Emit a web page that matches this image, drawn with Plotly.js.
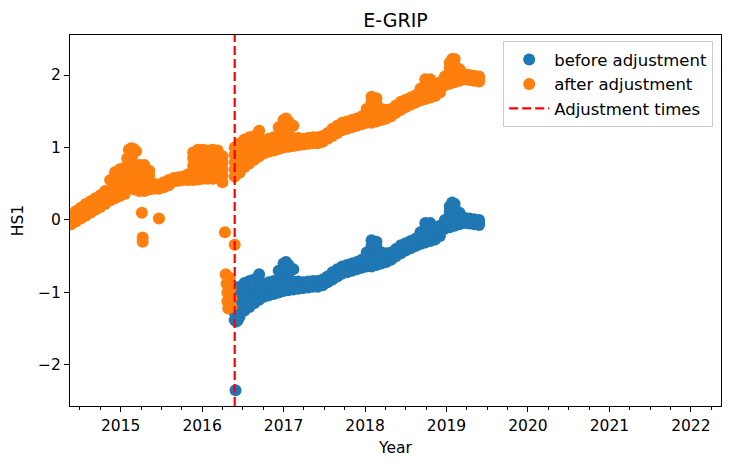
<!DOCTYPE html>
<html>
<head>
<meta charset="utf-8">
<script src="https://cdn.plot.ly/plotly-3.0.1.min.js"></script>
<style>html,body{margin:0;padding:0;background:#fff;}#chart{width:732px;height:466px;}</style>
</head>
<body>
<div id="chart"></div>
<script>
// ---- data (decimal years, HS1 values) ----
// "after adjustment": band samples (lower edge / middle / upper edge)
const afterT = [
  2014.39,2014.45,2014.51,2014.57,2014.63,2014.69,2014.75,2014.81,2014.87,2014.93,
  2014.99,2015.05,2015.11,2015.17,2015.23,2015.29,2015.35,2015.41,2015.47,2015.53,
  2015.59,2015.65,2015.71,2015.77,2015.83,2015.89,2015.95,2016.01,2016.07,2016.13,
  2016.19,2016.25,
  2016.40,2016.46,2016.52,2016.58,2016.64,2016.70,2016.76,2016.82,2016.88,2016.94,
  2017.00,2017.06,2017.12,2017.18,2017.24,2017.30,2017.36,2017.42,2017.48,2017.54,
  2017.60,2017.66,2017.72,2017.78,2017.84,2017.90,2017.96,2018.02,2018.08,2018.14,
  2018.20,2018.26,2018.32,2018.38,2018.44,2018.50,2018.56,2018.62,2018.68,2018.74,
  2018.80,2018.86,2018.92,2018.98,2019.04,2019.10,2019.16,2019.22,2019.28,2019.34,
  2019.40
];
const afterLo = [
  -0.06,-0.02,0.02,0.06,0.10,0.14,0.18,0.22,0.27,0.30,
  0.33,0.36,0.45,0.42,0.40,0.40,0.42,0.43,0.43,0.45,
  0.48,0.53,0.54,0.55,0.55,0.55,0.56,0.57,0.57,0.57,
  0.58,0.52,
  0.60,0.65,0.73,0.78,0.83,0.88,0.92,0.94,0.96,0.98,
  1.00,1.01,1.02,1.03,1.04,1.05,1.06,1.06,1.08,1.12,
  1.16,1.20,1.24,1.26,1.28,1.30,1.32,1.34,1.34,1.36,
  1.38,1.40,1.43,1.48,1.52,1.56,1.59,1.62,1.65,1.67,
  1.69,1.71,1.76,1.86,1.88,1.90,1.92,1.94,1.93,1.92,
  1.91
];
const afterMid = [
  0.01,0.06,0.10,0.14,0.18,0.22,0.26,0.31,0.40,0.48,
  0.52,0.55,0.60,0.58,0.57,0.58,0.55,0.47,0.46,0.49,
  0.52,0.55,0.56,0.57,0.60,0.75,0.78,0.77,0.78,0.77,
  0.78,0.70,
  0.80,0.86,0.92,0.96,1.00,1.06,1.01,1.03,1.05,1.13,
  1.20,1.18,1.13,1.08,1.08,1.09,1.10,1.10,1.12,1.16,
  1.21,1.25,1.29,1.31,1.33,1.35,1.38,1.43,1.53,1.53,
  1.46,1.46,1.48,1.53,1.58,1.61,1.64,1.67,1.73,1.80,
  1.82,1.78,1.83,1.92,2.03,2.06,2.00,1.97,1.96,1.95,
  1.94
];
const afterHi = [
  0.07,0.12,0.17,0.22,0.26,0.30,0.34,0.40,0.55,0.66,
  0.70,0.72,0.75,0.75,0.76,0.76,0.68,0.50,0.49,0.52,
  0.55,0.58,0.59,0.60,0.63,0.93,0.97,0.97,0.96,0.97,
  0.96,0.88,
  1.00,1.06,1.11,1.14,1.16,1.23,1.10,1.12,1.14,1.28,
  1.38,1.36,1.30,1.13,1.12,1.13,1.14,1.14,1.16,1.20,
  1.26,1.30,1.34,1.36,1.38,1.40,1.43,1.53,1.70,1.68,
  1.53,1.52,1.53,1.58,1.63,1.66,1.69,1.72,1.81,1.94,
  1.94,1.86,1.90,1.98,2.17,2.22,2.08,2.01,2.00,1.99,
  1.98
];
// single "after adjustment" points (knobs, fillers, outliers)
const afterExtraT = [
  2015.08,2015.10,2015.13,2015.16,2015.19,2015.14,
  2014.95,2014.95,2015.02,2015.02,2015.11,2015.17,2015.17,2015.23,2015.23,2015.29,2015.29,2015.35,
  2015.89,2015.89,2015.95,2015.95,2016.01,2016.01,2016.07,2016.07,2016.13,2016.13,2016.19,2016.19,2016.25,2016.25,
  2016.29,2016.30,2016.31,2016.31,2016.32,2016.34,2016.35,2016.36,2016.36,
  2015.26,2015.47,2015.27,2015.27,2016.28,2016.40,
  2016.40,2016.40,2016.46,2016.46,2016.52,2016.52,2016.70,2016.70,2017.00,2017.00,2017.06,2017.06,2017.03,
  2018.08,2018.08,2018.14,2018.14,2018.74,2018.74,2018.80,2018.80,2019.04,2019.04,2019.10,2019.10,2019.07
];
const afterExtraV = [
  0.85,0.97,0.99,0.98,0.95,0.88,
  0.41,0.58,0.45,0.64,0.52,0.50,0.67,0.48,0.67,0.48,0.67,0.62,
  0.65,0.85,0.67,0.88,0.67,0.87,0.67,0.87,0.67,0.87,0.68,0.87,0.61,0.79,
  -0.75,-0.88,-1.00,-1.12,-1.22,-0.80,-0.95,-1.08,-1.20,
  0.10,0.02,-0.24,-0.30,-0.17,-0.34,
  0.70,0.90,0.76,0.96,0.82,1.02,0.97,1.15,1.10,1.30,1.09,1.27,1.40,
  1.44,1.62,1.45,1.61,1.73,1.87,1.75,1.88,1.96,2.10,1.98,2.14,2.22
];

// "before adjustment": band samples after the adjustment time
const beforeT = afterT.slice(32);
const beforeLo = [
  -1.38,-1.33,-1.25,-1.20,-1.15,-1.10,-1.06,-1.04,-1.02,-1.00,
  -0.98,-0.97,-0.96,-0.95,-0.94,-0.93,-0.92,-0.92,-0.90,-0.86,
  -0.82,-0.78,-0.74,-0.72,-0.70,-0.68,-0.66,-0.64,-0.64,-0.62,
  -0.60,-0.58,-0.55,-0.50,-0.46,-0.42,-0.39,-0.36,-0.33,-0.31,
  -0.29,-0.27,-0.22,-0.12,-0.10,-0.08,-0.06,-0.04,-0.05,-0.06,
  -0.07
];
const beforeMid = [
  -1.18,-1.12,-1.06,-1.02,-0.98,-0.92,-0.97,-0.95,-0.93,-0.85,
  -0.78,-0.80,-0.85,-0.90,-0.90,-0.89,-0.88,-0.88,-0.86,-0.82,
  -0.77,-0.73,-0.69,-0.67,-0.65,-0.63,-0.60,-0.55,-0.45,-0.45,
  -0.52,-0.52,-0.50,-0.45,-0.40,-0.37,-0.34,-0.31,-0.25,-0.18,
  -0.16,-0.20,-0.15,-0.06,0.05,0.08,0.02,-0.01,-0.02,-0.03,
  -0.04
];
const beforeHi = [
  -0.98,-0.92,-0.87,-0.84,-0.82,-0.75,-0.88,-0.86,-0.84,-0.70,
  -0.60,-0.62,-0.68,-0.85,-0.86,-0.85,-0.84,-0.84,-0.82,-0.78,
  -0.72,-0.68,-0.64,-0.62,-0.60,-0.58,-0.55,-0.45,-0.28,-0.30,
  -0.45,-0.46,-0.45,-0.40,-0.35,-0.32,-0.29,-0.26,-0.17,-0.04,
  -0.04,-0.12,-0.08,0.00,0.19,0.22,0.10,0.03,0.02,0.01,
  0.00
];
const beforeExtraT = [
  2016.40,2016.40,2016.46,2016.46,2016.52,2016.52,2016.70,2016.70,2017.00,2017.00,2017.06,2017.06,2017.03,
  2018.08,2018.08,2018.14,2018.14,2018.74,2018.74,2018.80,2018.80,2019.04,2019.04,2019.10,2019.10,2019.07,
  2016.42,2016.44,2016.41
];
const beforeExtraV = [
  -1.28,-1.08,-1.22,-1.02,-1.16,-0.96,-1.01,-0.83,-0.88,-0.68,-0.89,-0.71,-0.58,
  -0.54,-0.36,-0.53,-0.37,-0.25,-0.11,-0.23,-0.10,-0.02,0.12,0.00,0.16,0.24,
  -1.40,-1.38,-2.35
];

const adjustmentTimes = [2016.40];
const xTickVals = [2015,2016,2017,2018,2019,2020,2021,2022];
const yTickVals = [-2,-1,0,1,2];
const xRange = [2014.378, 2022.37];
const yRange = [-2.566, 2.552];

// ---- traces ----
const font = 'DejaVu Sans, Verdana, sans-serif';
const beforeTrace = {
  type: 'scatter', mode: 'markers', name: 'before adjustment',
  x: beforeT.concat(beforeT, beforeT, beforeExtraT),
  y: beforeLo.concat(beforeMid, beforeHi, beforeExtraV),
  marker: {color: '#1f77b4', size: 12, line: {width: 0}},
  hoverinfo: 'skip'
};
const afterTrace = {
  type: 'scatter', mode: 'markers', name: 'after adjustment',
  x: afterT.concat(afterT, afterT, afterExtraT),
  y: afterLo.concat(afterMid, afterHi, afterExtraV),
  marker: {color: '#ff7f0e', size: 12, line: {width: 0}},
  hoverinfo: 'skip'
};
const adjX = [], adjY = [];
adjustmentTimes.forEach(t => { adjX.push(t, t, null); adjY.push(yRange[0], yRange[1], null); });
const adjTrace = {
  type: 'scatter', mode: 'lines', name: 'Adjustment times',
  x: adjX, y: adjY,
  line: {color: '#ff0000', width: 2.2, dash: '9px,4px'},
  hoverinfo: 'skip'
};

const layout = {
  width: 732, height: 466,
  margin: {l: 70, r: 11, t: 35, b: 60, pad: 0},
  paper_bgcolor: '#ffffff', plot_bgcolor: '#ffffff',
  font: {family: font, size: 15, color: '#000000'},
  title: {text: 'E-GRIP', font: {family: font, size: 19, color: '#000'},
          xref: 'paper', x: 0.5, xanchor: 'center', yref: 'paper', y: 1, yanchor: 'bottom', pad: {b: 8}},
  showlegend: true,
  legend: {x: 0.988, y: 0.983, xanchor: 'right', yanchor: 'top', itemwidth: 40,
           bgcolor: 'rgba(255,255,255,0.8)', bordercolor: '#cccccc', borderwidth: 1,
           font: {family: font, size: 16.5, color: '#000'}},
  xaxis: {
    range: xRange, type: 'linear', tickmode: 'array', tickvals: xTickVals, tickformat: 'd',
    showgrid: false, zeroline: false, showline: true, linecolor: '#000', linewidth: 1, mirror: true,
    ticks: 'outside', ticklen: 5, tickwidth: 1, tickcolor: '#000',
    tickfont: {family: font, size: 15.5, color: '#000'},
    minor: {dtick: 0.25, tick0: 2015, ticks: 'outside', ticklen: 3, tickwidth: 1, tickcolor: '#000', showgrid: false},
    title: {text: 'Year', font: {family: font, size: 15.5, color: '#000'}, standoff: 8}
  },
  yaxis: {
    range: yRange, tickmode: 'array', tickvals: yTickVals,
    showgrid: false, zeroline: false, showline: true, linecolor: '#000', linewidth: 1, mirror: true,
    ticks: 'outside', ticklen: 5, tickwidth: 1, tickcolor: '#000',
    tickfont: {family: font, size: 15.5, color: '#000'},
    title: {text: 'HS1', font: {family: font, size: 15.5, color: '#000'}, standoff: 10}
  }
};

Plotly.newPlot('chart', [beforeTrace, afterTrace, adjTrace], layout, {displayModeBar: false, staticPlot: true});
</script>
</body>
</html>
